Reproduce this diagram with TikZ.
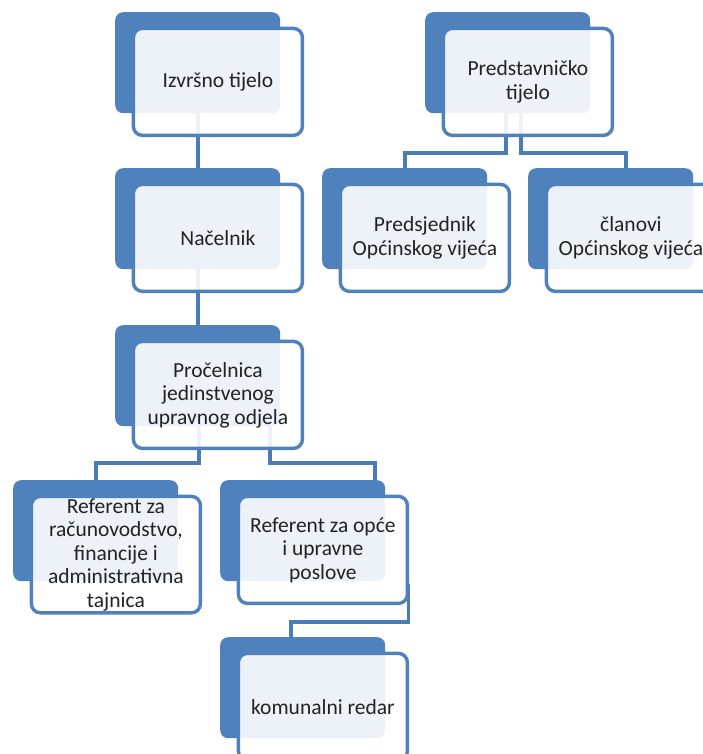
\documentclass[tikz,border=0pt]{standalone}
\usepackage{fontspec}
\setmainfont{Carlito}
\usetikzlibrary{calc}
\pgfdeclarelayer{bg}
\pgfsetlayers{bg,main}
\definecolor{accent}{HTML}{4F81BD}
\definecolor{conn}{HTML}{4A7CB8}
\definecolor{txt}{HTML}{222222}
\tikzset{
  backbox/.style={rectangle, rounded corners=8pt, fill=accent, minimum width=165pt, minimum height=101pt, anchor=north west, inner sep=0pt},
  frontbox/.style={rectangle, rounded corners=9pt, draw=accent, line width=3.4pt, fill=white, fill opacity=0.9, text opacity=1, minimum width=169pt, minimum height=107pt, anchor=north west, inner sep=2pt, align=center, text=txt, font=\fontsize{21.5}{23.5}\selectfont},
  link/.style={draw=conn, line width=3.6pt}
}
\newcommand{\orgunit}[4]{%
  \node[backbox] (#1) at (#2,#3) {};
  \node[frontbox] (#1f) at ($(#1.north west)+(16.7,14.7)$) {#4};
}
\begin{document}
\begin{tikzpicture}[x=1pt,y=-1pt]
\useasboundingbox (0,0) rectangle (703,754);
\orgunit{u1}{115}{12}{Izvršno tijelo}
\orgunit{u2}{115}{168}{Načelnik}
\orgunit{u3}{115}{325}{Pročelnica\\jedinstvenog\\upravnog odjela}
\orgunit{p}{425}{12}{Predstavničko\\tijelo}
\orgunit{ps}{322}{168}{Predsjednik\\Općinskog vijeća}
\orgunit{cl}{528}{168}{članovi\\Općinskog vijeća}
\orgunit{r1}{13}{480}{Referent za\\računovodstvo,\\financije i\\administrativna\\tajnica}
\orgunit{r2}{220}{480}{Referent za opće\\i upravne\\poslove}
\orgunit{k}{220}{637}{komunalni redar}
\begin{pgfonlayer}{bg}
  \draw[link] (u1.south) -- (u2.north);
  \draw[link] (u2.south) -- (u3.north);
  \draw[link] ($(u3.south)+(1,0)$) |- ($(r1.north)+(0,-17)$) -- (r1.north);
  \draw[link] ($(u3.south)+(72,0)$) |- ($(r2.north)+(72,-17)$) -- ($(r2.north)+(72,0)$);
  \draw[link] ($(p.south)+(-2,0)$) |- ($(ps.north)+(0,-15)$) -- (ps.north);
  \draw[link] ($(p.south)+(13,0)$) |- ($(cl.north)+(15,-15)$) -- ($(cl.north)+(15,0)$);
  \draw[link] ($(r2.south east)+(23,3)$) |- ($(k.north)+(-12,-15)$) -- ($(k.north)+(-12,0)$);
\end{pgfonlayer}
\end{tikzpicture}
\end{document}
